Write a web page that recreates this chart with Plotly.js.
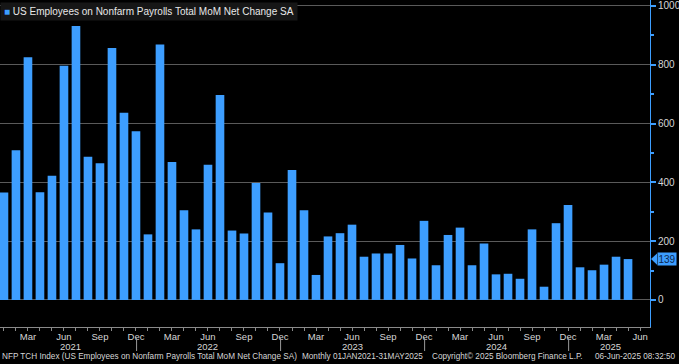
<!DOCTYPE html>
<html><head><meta charset="utf-8">
<script src="https://cdn.plot.ly/plotly-3.0.1.min.js"></script>
<style>html,body{margin:0;padding:0;background:#000;} #chart{width:679px;height:364px;}</style>
</head><body><div id="chart"></div>
<script>
const months = [
  "2021-01","2021-02","2021-03","2021-04","2021-05","2021-06","2021-07","2021-08","2021-09","2021-10","2021-11","2021-12",
  "2022-01","2022-02","2022-03","2022-04","2022-05","2022-06","2022-07","2022-08","2022-09","2022-10","2022-11","2022-12",
  "2023-01","2023-02","2023-03","2023-04","2023-05","2023-06","2023-07","2023-08","2023-09","2023-10","2023-11","2023-12",
  "2024-01","2024-02","2024-03","2024-04","2024-05","2024-06","2024-07","2024-08","2024-09","2024-10","2024-11","2024-12",
  "2025-01","2025-02","2025-03","2025-04","2025-05"
];
const payrolls = [
  365, 509, 825, 366, 422, 796, 932, 487, 465, 857, 637, 574,
  223, 869, 469, 305, 240, 460, 697, 236, 226, 398, 297, 125,
  442, 305, 85, 216, 227, 256, 147, 158, 158, 187, 141, 269,
  118, 221, 246, 118, 192, 87, 89, 72, 240, 45, 261, 323,
  111, 101, 120, 147, 139
];
const extraAxisMonth = "2025-06";
const monthNames = ["Jan","Feb","Mar","Apr","May","Jun","Jul","Aug","Sep","Oct","Nov","Dec"];
const labelledMonths = ["Mar","Jun","Sep","Dec"];
const yTickStep = 200;
const yMinorStep = 100;
const seriesName = "US Employees on Nonfarm Payrolls Total MoM Net Change SA";
const footerTicker = "NFP TCH Index (US Employees on Nonfarm Payrolls Total MoM Net Change SA)";
const footerRange = "Monthly 01JAN2021-31MAY2025";
const footerCopy = "Copyright\u00a9 2025 Bloomberg Finance L.P.";
const footerStamp = "06-Jun-2025 08:32:50";

const BLUE = "#3d9eff";
const TXT = "#d6d6d6";
const FONT = "Liberation Sans, Arial, sans-serif";

const W = 679, H = 364, ML = 0, MR = 29, MT = 0, MB = 37;
const PW = W - ML - MR, PH = H - MT - MB;
const px = v => v / PW;           // pixels -> paper x
const py = v => -v / PH;          // pixels below plot -> paper y

const idx = months.map((_, i) => i);
const axisMonths = months.concat([extraAxisMonth]);
const tickvals = axisMonths.map((_, i) => i);
const ticktext = axisMonths.map(m => {
  const n = monthNames[parseInt(m.slice(5), 10) - 1];
  return labelledMonths.includes(n) ? n : "";
});
const xRange = [-0.33, axisMonths.length - 1 + 0.83];
const yRange = [-92, 1020];

// year labels and separators
const years = [...new Set(axisMonths.map(m => m.slice(0, 4)))];
const annotations = [];
const shapes = [];
years.forEach((y, k) => {
  const ids = axisMonths.map((m, i) => m.startsWith(y) ? i : -1).filter(i => i >= 0);
  const first = ids[0], last = ids[ids.length - 1];
  let pos;
  if (k === 0 || k === years.length - 1) {
    const lo = Math.max(first - 0.5, xRange[0]);
    const hi = Math.min(last + 0.5, xRange[1]);
    pos = (lo + hi) / 2;
  } else {
    pos = first + 5;
  }
  annotations.push({x: pos, xref: "x", y: py(19.5), yref: "paper", text: y, showarrow: false,
    font: {family: FONT, size: 9.5, color: TXT}, xanchor: "center", yanchor: "middle", borderpad: 0});
  if (k < years.length - 1) {
    const dec = axisMonths.indexOf(y + "-12");
    shapes.push({type: "line", xref: "x", yref: "paper", x0: dec + 0.05, x1: dec + 0.05,
      y0: py(11), y1: py(24), line: {color: "#9a9a9a", width: 1}});
  }
});

// legend box
annotations.push({x: 0, xref: "paper", y: 1 - 2 / PH, yref: "paper", xanchor: "left", yanchor: "top",
  text: `<span style="color:${BLUE}">\u25A0</span> ${seriesName}`, showarrow: false,
  bgcolor: "#161616", borderpad: 3, font: {family: FONT, size: 10, color: "#e8e8e8"}});

// last value label
const lastVal = payrolls[payrolls.length - 1];
annotations.push({x: px(PW + 7), xref: "paper", y: lastVal, yref: "y", xanchor: "left", yanchor: "middle",
  text: String(lastVal), showarrow: false, bgcolor: BLUE, borderpad: 0.5,
  font: {family: FONT, size: 10, color: "#0c2850"}});
shapes.push({type: "path", xref: "paper", yref: "y",
  path: `M ${px(PW + 1)},${lastVal} L ${px(PW + 7)},${lastVal + 19} L ${px(PW + 7)},${lastVal - 19} Z`,
  fillcolor: BLUE, line: {width: 0}});

// footer
const fy = py(30);
annotations.push({x: 0, xref: "paper", y: fy, yref: "paper", xanchor: "left", yanchor: "middle",
  text: footerTicker, showarrow: false, font: {family: FONT, size: 8.2, color: TXT}});
annotations.push({x: px(300), xref: "paper", y: fy, yref: "paper", xanchor: "left", yanchor: "middle",
  text: footerRange, showarrow: false, font: {family: FONT, size: 8.2, color: TXT}});
annotations.push({x: px(430), xref: "paper", y: fy, yref: "paper", xanchor: "left", yanchor: "middle",
  text: footerCopy, showarrow: false, font: {family: FONT, size: 8.2, color: TXT}});
annotations.push({x: px(W - 1), xref: "paper", y: fy, yref: "paper", xanchor: "right", yanchor: "middle",
  text: footerStamp, showarrow: false, font: {family: FONT, size: 8.2, color: TXT}});

const trace = {
  type: "bar", x: idx, y: payrolls, name: seriesName, width: 0.72,
  marker: {color: BLUE, line: {width: 0}}, hoverinfo: "none"
};

const layout = {
  width: W, height: H,
  margin: {l: ML, r: MR, t: MT, b: MB, pad: 0},
  paper_bgcolor: "#000", plot_bgcolor: "#000",
  showlegend: false,
  font: {family: FONT, size: 9.5, color: TXT},
  xaxis: {
    range: xRange, tickmode: "array", tickvals: tickvals, ticktext: ticktext,
    showgrid: false, zeroline: false, showline: true, linecolor: "#8a8a8a", linewidth: 1,
    ticks: "outside", ticklen: 3, tickcolor: "#8a8a8a", tickwidth: 1, ticklabelstandoff: -2,
    tickfont: {family: FONT, size: 9.5, color: TXT}, fixedrange: true
  },
  yaxis: {
    side: "right", range: yRange, tick0: 0, dtick: yTickStep,
    showgrid: true, gridcolor: "#5a5a5a", gridwidth: 1, zeroline: false,
    showline: true, linecolor: BLUE, linewidth: 1,
    ticks: "outside", ticklen: 5, tickwidth: 2, tickcolor: BLUE,
    minor: {dtick: yMinorStep, tick0: 0, ticks: "outside", ticklen: 3, tickcolor: BLUE, showgrid: false},
    tickfont: {family: FONT, size: 10, color: TXT}, fixedrange: true
  },
  annotations: annotations,
  shapes: shapes
};

Plotly.newPlot("chart", [trace], layout, {staticPlot: true, displayModeBar: false});
</script>
</body></html>
